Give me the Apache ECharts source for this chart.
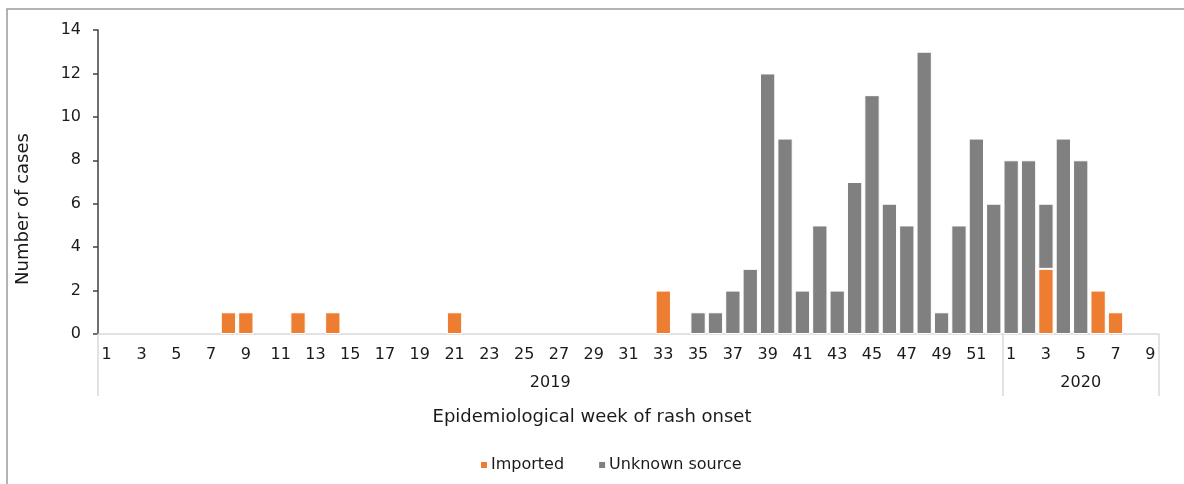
<!DOCTYPE html>
<html>
<head>
<meta charset="utf-8">
<script src="https://cdn.jsdelivr.net/npm/echarts@6/dist/echarts.min.js"></script>
<style>
html,body{margin:0;padding:0;background:#fff;}
#main{width:1184px;height:484px;}
</style>
</head>
<body>
<div id="main"></div>
<script>
// Week labels (2019 weeks 1-52, then 2020 weeks 1-9)
const weeks2019 = ['1','2','3','4','5','6','7','8','9','10','11','12','13','14','15','16','17','18','19','20','21','22','23','24','25','26','27','28','29','30','31','32','33','34','35','36','37','38','39','40','41','42','43','44','45','46','47','48','49','50','51','52'];
const weeks2020 = ['1','2','3','4','5','6','7','8','9'];
const years = ['2019', '2020'];

// Imported cases per week
const imported2019 = [0,0,0,0,0,0,0,1,1,0,0,1,0,1,0,0,0,0,0,0,1,0,0,0,0,0,0,0,0,0,0,0,2,0,0,0,0,0,0,0,0,0,0,0,0,0,0,0,0,0,0,0];
const imported2020 = [0,0,3,0,0,2,1,0,0];
// Unknown source cases per week
const unknown2019 = [0,0,0,0,0,0,0,0,0,0,0,0,0,0,0,0,0,0,0,0,0,0,0,0,0,0,0,0,0,0,0,0,0,0,1,1,2,3,12,9,2,5,2,7,11,6,5,13,1,5,9,6];
const unknown2020 = [8,8,3,9,8,0,0,0,0];

const yTicks = [0, 2, 4, 6, 8, 10, 12, 14];

const categories = weeks2019.concat(weeks2020);
const imported = imported2019.concat(imported2020).map(v => v === 0 ? '-' : v);
const unknown = unknown2019.concat(unknown2020).map(v => v === 0 ? '-' : v);
const yearCounts = [weeks2019.length, weeks2020.length];
const boundaries = [0, yearCounts[0], yearCounts[0] + yearCounts[1]];
const yearCenters = [(boundaries[0] + boundaries[1]) / 2, (boundaries[1] + boundaries[2]) / 2];

const FONT = 'DejaVu Sans';
const TXT = '#1a1a1a';

const chart = echarts.init(document.getElementById('main'), null, {renderer: 'canvas'});
chart.setOption({
  animation: false,
  backgroundColor: '#fff',
  textStyle: {fontFamily: FONT},
  grid: {left: 98, right: 25, top: 30, bottom: 150, containLabel: false},
  legend: {
    data: ['Imported', 'Unknown source'],
    left: 474, top: 452,
    icon: 'rect', itemWidth: 8, itemHeight: 8, itemGap: 33,
    textStyle: {fontFamily: FONT, fontSize: 16, color: TXT, padding: [0, 0, 0, -2]}
  },
  xAxis: [
    {
      type: 'category',
      data: categories,
      boundaryGap: true,
      axisLine: {show: true, lineStyle: {color: '#d9d9d9', width: 1.5}},
      axisTick: {show: false},
      axisLabel: {interval: 1, margin: 13, fontFamily: FONT, fontSize: 16, color: TXT},
      splitLine: {show: false}
    },
    {
      type: 'value',
      min: boundaries[0], max: boundaries[2],
      position: 'bottom',
      axisLine: {show: false},
      axisTick: {show: true, customValues: boundaries, length: 62, lineStyle: {color: '#d9d9d9', width: 1.5}},
      axisLabel: {
        customValues: yearCenters, margin: 41, fontFamily: FONT, fontSize: 16, color: TXT,
        formatter: v => (v < boundaries[1] ? years[0] : years[1])
      },
      splitLine: {show: false}
    }
  ],
  yAxis: {
    type: 'value',
    min: yTicks[0], max: yTicks[yTicks.length - 1], interval: 2,
    axisLine: {show: true, lineStyle: {color: '#404040', width: 1.5}},
    axisTick: {show: true, length: 5, lineStyle: {color: '#404040', width: 1.5}},
    axisLabel: {margin: 17, fontFamily: FONT, fontSize: 16, color: TXT},
    splitLine: {show: false}
  },
  series: [
    {
      name: 'Imported', type: 'bar', stack: 'cases', xAxisIndex: 0,
      data: imported, barCategoryGap: '12%',
      itemStyle: {color: '#ED7D31', borderColor: '#ffffff', borderWidth: 1}
    },
    {
      name: 'Unknown source', type: 'bar', stack: 'cases', xAxisIndex: 0,
      data: unknown, barCategoryGap: '12%',
      itemStyle: {color: '#808080', borderColor: '#ffffff', borderWidth: 1}
    }
  ],
  graphic: [
    {
      type: 'rect', silent: true, z: -1,
      shape: {x: 7, y: 9, width: 1300, height: 600},
      style: {fill: 'none', stroke: '#9a9a9a', lineWidth: 1.5}
    },
    {
      type: 'text', left: 'center', top: 408,
      style: {text: 'Epidemiological week of rash onset', font: '18px "' + FONT + '"', fill: TXT}
    },
    {
      type: 'text', x: 14, y: 209, rotation: Math.PI / 2,
      style: {text: 'Number of cases', font: '18px "' + FONT + '"', fill: TXT, align: 'center', verticalAlign: 'top'}
    }
  ]
});
</script>
</body>
</html>
